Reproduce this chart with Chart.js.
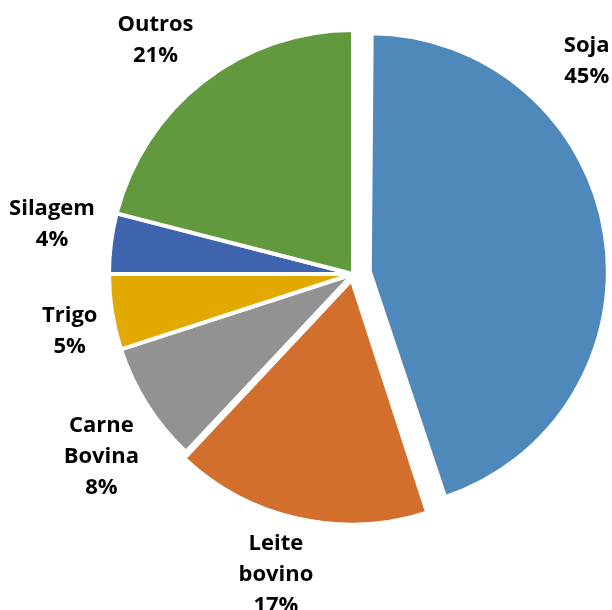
<!DOCTYPE html>
<html>
<head>
<meta charset="utf-8">
<script src="https://cdn.jsdelivr.net/npm/chart.js@4/dist/chart.umd.min.js"></script>
<style>
  html, body { margin: 0; padding: 0; background: #ffffff; }
  #wrap { width: 612px; height: 610px; position: relative; }
</style>
</head>
<body>
<div id="wrap"><canvas id="c" width="612" height="610"></canvas></div>
<script>
// ---- data ----
const categories = ["Soja", "Leite bovino", "Carne Bovina", "Trigo", "Silagem", "Outros"];
const shares = [45, 17, 8, 5, 4, 21];
const sliceColors = ["#4f89bc", "#d26f2d", "#929292", "#e2aa00", "#3d64ad", "#62993f"];

// ---- styling: explosion of slices and radius trim of exploded slice (px) ----
const sliceOffset = [68, 24, 0, 0, 0, 0];
const sliceRadiusTrim = [17.7, 0, 0, 0, 0, 0];

// ---- label placement (style: angle nudge in degrees, gap beyond radius in px) ----
const labelAngleNudge = [-33.3, 1.8, -3.6, -2.4, 2.1, -2.4];
const labelGap = [72, 66, 67, 45, 61, 62];

const trimPlugin = {
  id: 'radiusTrim',
  beforeDatasetsDraw(chart) {
    const meta = chart.getDatasetMeta(0);
    const base = meta.controller.outerRadius;
    meta.data.forEach((arc, i) => { arc.outerRadius = base - sliceRadiusTrim[i]; });
  }
};

const labelPlugin = {
  id: 'outsideLabels',
  afterDatasetsDraw(chart) {
    const ctx = chart.ctx;
    const meta = chart.getDatasetMeta(0);
    const baseR = meta.controller.outerRadius;
    const data = chart.data.datasets[0].data;
    const total = data.reduce((a, b) => a + b, 0);
    ctx.save();
    ctx.font = 'bold 22px "Open Sans", sans-serif';
    ctx.fillStyle = '#000000';
    ctx.textAlign = 'center';
    ctx.textBaseline = 'middle';
    const lineH = 31;
    meta.data.forEach((arc, i) => {
      const mid = (arc.startAngle + arc.endAngle) / 2 + labelAngleNudge[i] * Math.PI / 180;
      const r = baseR + labelGap[i];
      const cx = arc.x + Math.cos(mid) * r;
      const cy = arc.y + Math.sin(mid) * r;
      const lines = chart.data.labels[i].split(' ');
      lines.push(Math.round(data[i] / total * 100) + '%');
      const y0 = cy - (lines.length - 1) * lineH / 2;
      lines.forEach((t, k) => ctx.fillText(t, cx, y0 + k * lineH));
    });
    ctx.restore();
  }
};

new Chart(document.getElementById('c'), {
  type: 'pie',
  data: {
    labels: categories,
    datasets: [{
      data: shares,
      backgroundColor: sliceColors,
      borderColor: '#ffffff',
      borderWidth: 4,
      offset: sliceOffset
    }]
  },
  options: {
    responsive: false,
    animation: false,
    radius: 244,
    layout: { padding: { left: 94, right: 0, top: 0, bottom: 62 } },
    plugins: {
      legend: { display: false },
      tooltip: { enabled: false },
      title: { display: false }
    }
  },
  plugins: [trimPlugin, labelPlugin]
});
</script>
</body>
</html>
